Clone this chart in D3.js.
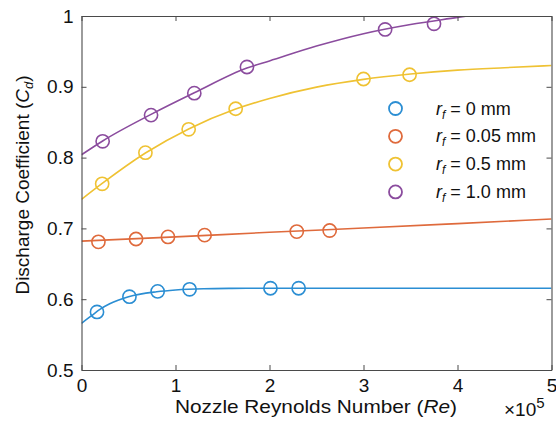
<!DOCTYPE html>
<html>
<head>
<meta charset="utf-8">
<script src="https://cdn.jsdelivr.net/npm/d3@7/dist/d3.min.js"></script>
<style>
  html, body { margin: 0; padding: 0; background: #fff; }
  svg { display: block; font-family: "Liberation Sans", Arial, Helvetica, sans-serif; }
</style>
</head>
<body>
<svg id="chart" width="556" height="427"></svg>
<script>
// ---- data (Re in units of 1e5) ----
const seriesNames = ["0", "0.05", "0.5", "1.0"];
const seriesColors = ["#2b8ed3", "#df6a3c", "#efc233", "#8b4c9e"];

// measured points
const re0 = [0.165, 0.51, 0.81, 1.15, 2.01, 2.31];
const cd0 = [0.582, 0.6035, 0.611, 0.614, 0.6155, 0.6155];
const re005 = [0.18, 0.58, 0.92, 1.31, 2.29, 2.64];
const cd005 = [0.681, 0.685, 0.688, 0.6905, 0.6955, 0.697];
const re05 = [0.22, 0.68, 1.14, 1.64, 3.0, 3.49];
const cd05 = [0.763, 0.807, 0.840, 0.869, 0.911, 0.917];
const re10 = [0.225, 0.74, 1.2, 1.76, 3.23, 3.75];
const cd10 = [0.823, 0.860, 0.891, 0.928, 0.981, 0.989];

// fitted curves
const fitRe0 = [0, 0.1, 0.2, 0.3, 0.5, 0.8, 1.0, 1.3, 1.6, 2.0, 3.0, 4.0, 5.0];
const fitCd0 = [0.566, 0.576, 0.586, 0.5935, 0.6035, 0.6105, 0.613, 0.6148, 0.6153, 0.6155, 0.6155, 0.6155, 0.6155];
const fitRe005 = [0, 1, 2, 3, 4, 5];
const fitCd005 = [0.682, 0.688, 0.6945, 0.7005, 0.7068, 0.7133];
const fitRe05 = [0, 0.22, 0.68, 1.14, 1.64, 2.0, 2.5, 3.0, 3.5, 4.0, 4.5, 5.0];
const fitCd05 = [0.741, 0.7635, 0.8065, 0.8405, 0.8685, 0.8835, 0.8995, 0.9105, 0.918, 0.9235, 0.927, 0.930];
const fitRe10 = [0, 0.225, 0.74, 1.2, 1.76, 2.0, 2.5, 3.0, 3.5, 4.0, 4.3];
const fitCd10 = [0.804, 0.8235, 0.861, 0.8915, 0.9265, 0.9365, 0.9575, 0.975, 0.988, 0.998, 1.004];

const xTicks = [0, 1, 2, 3, 4, 5];
const yTicks = [0.5, 0.6, 0.7, 0.8, 0.9, 1];
const yTickLabels = ["0.5", "0.6", "0.7", "0.8", "0.9", "1"];

const markers = [[re0, cd0], [re005, cd005], [re05, cd05], [re10, cd10]];
const fits = [[fitRe0, fitCd0], [fitRe005, fitCd005], [fitRe05, fitCd05], [fitRe10, fitCd10]];

// ---- layout ----
const svg = d3.select("#chart");
const L = 81.5, R = 551.5, T = 16, B = 370;
const x = d3.scaleLinear().domain([0, 5]).range([L, R]);
const y = d3.scaleLinear().domain([0.5, 1]).range([B, T]);
const axisColor = "#4a4a4a";

svg.append("defs").append("clipPath").attr("id", "clip")
  .append("rect").attr("x", L).attr("y", T).attr("width", R - L).attr("height", B - T);

// curves
const line = d3.line().x(d => x(d[0])).y(d => y(d[1])).curve(d3.curveMonotoneX);
const plot = svg.append("g").attr("clip-path", "url(#clip)");
fits.forEach((f, i) => {
  const pts = f[0].map((v, j) => [v, f[1][j]]);
  plot.append("path").attr("d", line(pts)).attr("fill", "none")
    .attr("stroke", seriesColors[i]).attr("stroke-width", 1.6);
});
markers.forEach((m, i) => {
  const pts = m[0].map((v, j) => [v, m[1][j]]);
  plot.selectAll(null).data(pts).enter().append("circle")
    .attr("cx", d => x(d[0])).attr("cy", d => y(d[1])).attr("r", 6.6)
    .attr("fill", "none").attr("stroke", seriesColors[i]).attr("stroke-width", 1.6);
});

// axes
function styleAxis(g) {
  g.selectAll(".domain").attr("stroke", axisColor).attr("stroke-width", 1.1);
  g.selectAll(".tick line").attr("stroke", axisColor).attr("stroke-width", 1);
  g.selectAll("text").attr("fill", "#111").style("font-size", "19px")
    .style("font-family", '"Liberation Sans", Arial, sans-serif');
}
const xb = svg.append("g").attr("transform", `translate(0,${B})`)
  .call(d3.axisBottom(x).tickValues(xTicks).tickSizeInner(-5).tickSizeOuter(0).tickPadding(9).tickFormat(d3.format("d")));
styleAxis(xb);
const xt = svg.append("g").attr("transform", `translate(0,${T})`)
  .call(d3.axisTop(x).tickValues(xTicks).tickSizeInner(-5).tickSizeOuter(0).tickFormat(""));
styleAxis(xt);
const yl = svg.append("g").attr("transform", `translate(${L},0)`)
  .call(d3.axisLeft(y).tickValues(yTicks).tickSizeInner(-5).tickSizeOuter(0).tickPadding(8)
    .tickFormat((d, i) => yTickLabels[i]));
styleAxis(yl);
const yr = svg.append("g").attr("transform", `translate(${R},0)`)
  .call(d3.axisRight(y).tickValues(yTicks).tickSizeInner(-5).tickSizeOuter(0).tickFormat(""));
styleAxis(yr);

// axis labels
const xlab = svg.append("text").attr("x", 175).attr("y", 413)
  .attr("textLength", 282).attr("lengthAdjust", "spacingAndGlyphs")
  .style("font-size", "19px").attr("fill", "#111");
xlab.append("tspan").text("Nozzle Reynolds Number (");
xlab.append("tspan").style("font-style", "italic").text("Re");
xlab.append("tspan").text(")");

const exp = svg.append("text").attr("x", 504).attr("y", 416).style("font-size", "19px").attr("fill", "#111");
exp.append("tspan").text("×10");
exp.append("tspan").attr("dy", -8).style("font-size", "15px").text("5");

const ylab = svg.append("text").attr("transform", "translate(29,185) rotate(-90)")
  .attr("text-anchor", "middle").style("font-size", "19px").attr("fill", "#111");
ylab.append("tspan").text("Discharge Coefficient (");
ylab.append("tspan").style("font-style", "italic").text("C");
ylab.append("tspan").style("font-style", "italic").style("font-size", "13px").attr("dy", 4).text("d");
ylab.append("tspan").attr("dy", -4).text(")");

// legend
const legY0 = 108.5, legStep = 27.8;
seriesNames.forEach((name, i) => {
  const gy = legY0 + i * legStep;
  svg.append("circle").attr("cx", 395.5).attr("cy", gy).attr("r", 6.5)
    .attr("fill", "none").attr("stroke", seriesColors[i]).attr("stroke-width", 1.8);
  const t = svg.append("text").attr("x", 436).attr("y", gy + 6).style("font-size", "18px").attr("fill", "#111");
  t.append("tspan").style("font-style", "italic").text("r");
  t.append("tspan").style("font-style", "italic").style("font-size", "12px").attr("dy", 4).text("f");
  t.append("tspan").attr("dy", -4).text(" = " + name + " mm");
});
</script>
</body>
</html>
